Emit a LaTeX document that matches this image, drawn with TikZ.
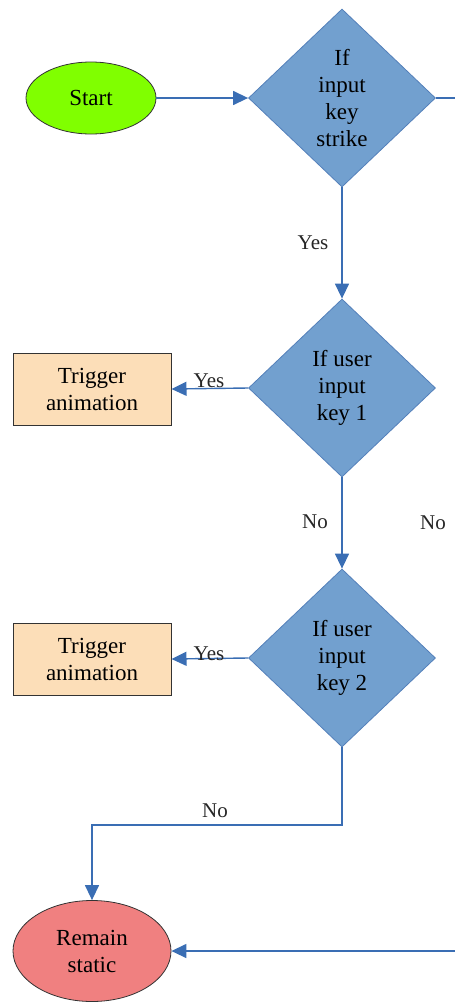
\documentclass[tikz,border=0pt]{standalone}
\usepackage{fontspec}
\setmainfont{Liberation Serif}
\newfontfamily\tnr{Liberation Serif}
\usetikzlibrary{shapes.geometric,arrows.meta}
\definecolor{dfill}{RGB}{114,160,207}
\definecolor{ddraw}{RGB}{84,128,186}
\definecolor{lineblue}{RGB}{58,110,180}
\definecolor{startgreen}{RGB}{128,255,0}
\definecolor{peach}{RGB}{252,222,184}
\definecolor{coral}{RGB}{240,128,128}
\begin{document}
\begin{tikzpicture}[x=1pt,y=-1pt,
  txt/.style={font=\tnr\fontsize{23}{27}\selectfont, align=center},
  decision/.style={txt, diamond, fill=dfill, draw=ddraw, line width=0.8pt, minimum width=187pt, minimum height=178pt, inner sep=0pt},
  actionbox/.style={txt, rectangle, fill=peach, draw=black!80, line width=1pt, minimum width=158pt, minimum height=72pt, inner sep=0pt},
  terminal/.style={txt, ellipse, draw=black!80, line width=0.8pt, inner sep=0pt},
  conn/.style={draw=lineblue, line width=1.4pt},
  arr/.style={conn, -{Triangle[length=15pt,width=14pt]}},
  lbl/.style={font=\tnr\fontsize{21}{24}\selectfont, text=black!85, inner sep=1pt}
]
\useasboundingbox (0,0) rectangle (455,1002);

\node[terminal, fill=startgreen, minimum width=130pt, minimum height=72pt] (start) at (91,98) {Start};
\node[decision] (d1) at (342,98) {If\\input\\key\\strike};
\node[decision] (d2) at (342,388) {If user\\input\\key 1};
\node[decision] (d3) at (342,658) {If user\\input\\key 2};
\node[actionbox] (t1) at (92,389) {Trigger\\animation};
\node[actionbox] (t2) at (92,659) {Trigger\\animation};
\node[terminal, fill=coral, minimum width=158pt, minimum height=101pt] (rs) at (92,951) {Remain\\static};

\coordinate (e1) at (455,98);
\coordinate (e2) at (455,951);
\coordinate (bend1) at (342,825);
\coordinate (bend2) at (92,825);

\draw[arr] (start.east) -- (d1.west);
\draw[conn] (d1.east) -- (e1);
\draw[arr] (d1.south) -- (d2.north);
\draw[arr] (d2.west) -- (t1.east);
\draw[arr] (d2.south) -- (d3.north);
\draw[arr] (d3.west) -- (t2.east);
\draw[arr] (d3.south) -- (bend1) -- (bend2) -- (rs.north);
\draw[arr] (e2) -- (rs.east);

\node[lbl] (ly1) at (313,243) {Yes};
\node[lbl] (ly2) at (209,381) {Yes};
\node[lbl] (ln1) at (315,522) {No};
\node[lbl] (ln2) at (433,523) {No};
\node[lbl] (ly3) at (209,654) {Yes};
\node[lbl] (ln3) at (215,811) {No};
\end{tikzpicture}
\end{document}
